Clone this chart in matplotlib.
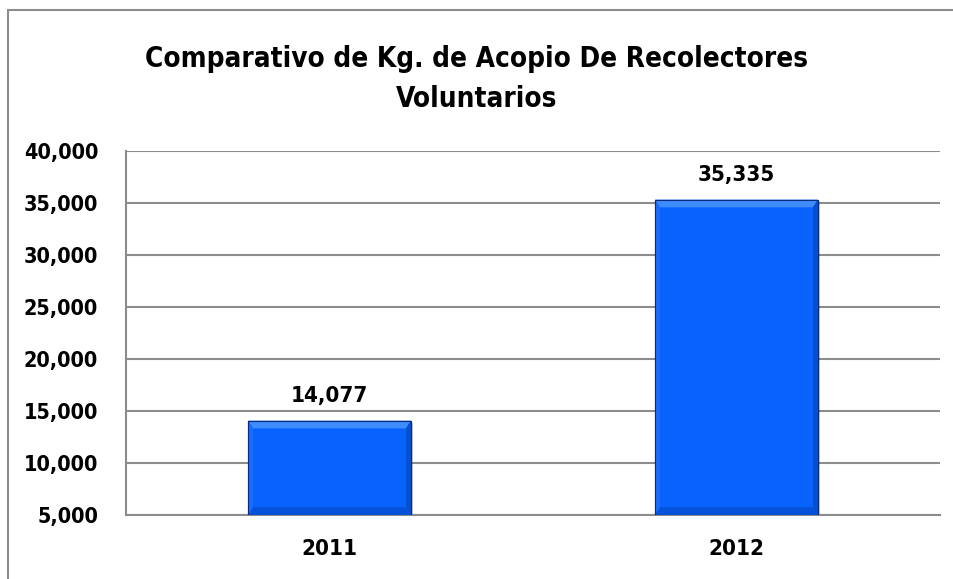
import matplotlib.pyplot as plt
from matplotlib.patches import Rectangle, Polygon

years = ['2011', '2012']
kg = [14077, 35335]
yticks = [5000, 10000, 15000, 20000, 25000, 30000, 35000, 40000]

plt.rcParams['font.family'] = ['DejaVu Sans']
plt.rcParams['font.stretch'] = 'condensed'

fig = plt.figure(figsize=(9.54, 5.79), dpi=100)
# chart frame (cut at right/bottom like the reference)
fig.patches.append(Rectangle((8/954, -0.1), 1.2, 1 - 10/579 + 0.1, transform=fig.transFigure,
                             fill=False, edgecolor='#8c8c8c', lw=1.5))

ax = fig.add_axes([126/954, 1 - 515/579, (940 - 126)/954, (515 - 151)/579])
x = list(range(len(years)))
w = 0.4
bars = ax.bar(x, [v - 5000 for v in kg], bottom=5000, width=w, color='#0862fc',
              edgecolor='#0a2a7a', lw=0.8, zorder=3)

# bevel effect + soft shadow
for b in bars:
    x0, y0 = b.get_x(), b.get_y()
    x1, y1 = x0 + b.get_width(), y0 + b.get_height()
    dx = 0.012
    dy = 750
    ax.add_patch(Rectangle((x0 + 0.006, y0), b.get_width(), b.get_height() - 250,
                           color='#000000', alpha=0.18, lw=0, zorder=2))
    ax.add_patch(Polygon([(x0, y1), (x1, y1), (x1 - dx, y1 - dy), (x0 + dx, y1 - dy)],
                         closed=True, color='#3f8cff', lw=0, zorder=4))
    ax.add_patch(Polygon([(x0, y0), (x1, y0), (x1 - dx, y0 + dy), (x0 + dx, y0 + dy)],
                         closed=True, color='#0652d8', lw=0, zorder=4))
    ax.add_patch(Polygon([(x0, y0), (x0, y1), (x0 + dx, y1 - dy), (x0 + dx, y0 + dy)],
                         closed=True, color='#1a6cff', lw=0, zorder=4))
    ax.add_patch(Polygon([(x1, y0), (x1, y1), (x1 - dx, y1 - dy), (x1 - dx, y0 + dy)],
                         closed=True, color='#0550d0', lw=0, zorder=4))
    ax.add_patch(Rectangle((x0, y0), b.get_width(), b.get_height(), fill=False,
                           edgecolor='#0a2a7a', lw=0.8, zorder=5))

for xi, v in zip(x, kg):
    ax.text(xi, v + 1400, f'{v:,}', ha='center', va='bottom', fontsize=16, fontweight='bold')

ax.set_xlim(-0.5, 1.5)
ax.set_ylim(5000, 40000)
ax.set_yticks(yticks)
ax.set_yticklabels([f'{t:,}' for t in yticks], fontsize=15.5, fontweight='bold')
ax.set_xticks(x)
ax.set_xticklabels(years, fontsize=16, fontweight='bold')
ax.tick_params(axis='x', length=0, pad=17)
ax.tick_params(axis='y', length=0, pad=20)
ax.yaxis.grid(True, color='#8c8c8c', lw=1.5, zorder=0)
for s in ['top', 'right']:
    ax.spines[s].set_visible(False)
ax.spines['left'].set_color('#8c8c8c')
ax.spines['left'].set_linewidth(1.5)
ax.spines['bottom'].set_color('#8c8c8c')
ax.spines['bottom'].set_linewidth(1.5)

fig.text(0.5, 1 - 79/579, 'Comparativo de Kg. de Acopio De Recolectores\nVoluntarios',
         ha='center', va='center', fontsize=20, fontweight='bold', linespacing=1.55)

fig.savefig('out.png', dpi=100)
